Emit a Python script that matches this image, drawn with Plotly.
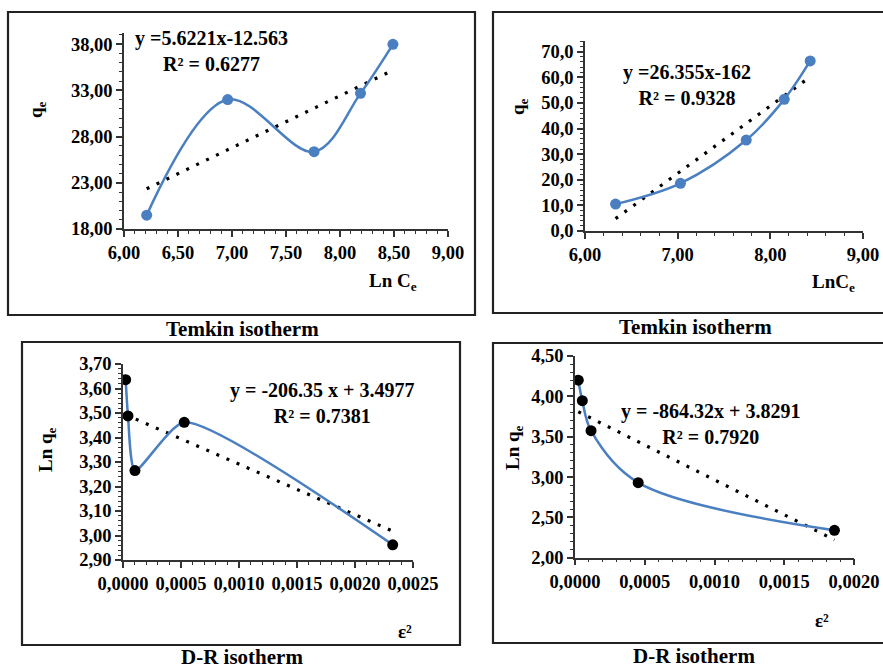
import plotly.graph_objects as go
import numpy as np

W, H = 883, 669

# ---------------- data ----------------
# Temkin (left)
tk1_x = [6.21, 6.96, 7.76, 8.19, 8.49]
tk1_y = [19.5, 32.0, 26.36, 32.67, 37.97]
tk1_fit = [5.6221, -12.563]
# Temkin (right)
tk2_x = [6.33, 7.03, 7.74, 8.15, 8.43]
tk2_y = [10.5, 18.6, 35.5, 51.4, 66.4]
tk2_fit = [26.355, -162.0]
# D-R (left)
dr1_x = [0.000023, 0.000043, 0.000103, 0.000528, 0.002325]
dr1_y = [3.636, 3.488, 3.265, 3.462, 2.962]
dr1_fit = [-206.35, 3.4977]
# D-R (right)
dr2_x = [0.0000236, 0.0000525, 0.000115, 0.000453, 0.00186]
dr2_y = [4.20, 3.946, 3.574, 2.93, 2.34]
dr2_fit = [-864.32, 3.8291]

eq_texts = ["y =5.6221x-12.563<br>R² = 0.6277",
            "y =26.355x-162<br>R² = 0.9328",
            "y = -206.35 x + 3.4977<br>R² = 0.7381",
            "y = -864.32x + 3.8291<br>R² = 0.7920"]
captions = ["Temkin isotherm", "Temkin isotherm", "D-R isotherm", "D-R isotherm"]

BLUE = "#4a7fc1"
FONT = '"Times New Roman", "Liberation Serif", "DejaVu Serif", serif'

def px(x):
    return x / W

def py(y):
    return 1 - y / H

fig = go.Figure()

panels = [
    dict(x=tk1_x, y=tk1_y, fit=tk1_fit, mcol=BLUE, sm=1.0,
         xdom=[px(124), px(448)], ydom=[py(229), py(33)],
         xr=[6, 9], yr=[18, 39.2], xt=list(np.arange(6, 9.01, 0.5)), yt=[18, 23, 28, 33, 38],
         xminor=0.1, yminor=1, xfmt=".2f", yfmt=".2f"),
    dict(x=tk2_x, y=tk2_y, fit=tk2_fit, mcol=BLUE, sm=1.0,
         xdom=[px(585), px(863)], ydom=[py(231), py(40.7)],
         xr=[6, 9], yr=[0, 74.3], xt=[6, 7, 8, 9], yt=list(range(0, 71, 10)),
         xminor=0.2, yminor=2, xfmt=".2f", yfmt=".1f"),
    dict(x=dr1_x, y=dr1_y, fit=dr1_fit, mcol="black", sm=0.6,
         xdom=[px(123), px(413)], ydom=[py(560), py(364)],
         xr=[0, 0.0025], yr=[2.9, 3.7], xt=list(np.arange(0, 0.00251, 0.0005)),
         yt=list(np.round(np.arange(2.9, 3.701, 0.1), 2)),
         xminor=0.0001, yminor=0.02, xfmt=".4f", yfmt=".2f"),
    dict(x=dr2_x, y=dr2_y, fit=dr2_fit, mcol="black", sm=1.0,
         xdom=[px(575), px(854)], ydom=[py(557.7), py(356)],
         xr=[0, 0.002], yr=[2.0, 4.5], xt=list(np.arange(0, 0.00201, 0.0005)),
         yt=[2.0, 2.5, 3.0, 3.5, 4.0, 4.5],
         xminor=0.0001, yminor=0.1, xfmt=".4f", yfmt=".2f"),
]

layout_axes = {}
for i, p in enumerate(panels, start=1):
    xa = "x" if i == 1 else f"x{i}"
    ya = "y" if i == 1 else f"y{i}"
    xmin, xmax = min(p["x"]), max(p["x"])
    fx = [xmin, xmax]
    fy = [p["fit"][0] * v + p["fit"][1] for v in fx]
    fig.add_trace(go.Scatter(x=fx, y=fy, mode="lines", xaxis=xa, yaxis=ya,
                             line=dict(color="black", width=3.2, dash="3px,8px"),
                             showlegend=False, hoverinfo="skip"))
    fig.add_trace(go.Scatter(x=p["x"], y=p["y"], mode="lines+markers", xaxis=xa, yaxis=ya,
                             line=dict(color=BLUE, width=2.5, shape="spline", smoothing=p["sm"]),
                             marker=dict(color=p["mcol"], size=11),
                             showlegend=False))
    common = dict(showgrid=False, zeroline=False, showline=True, linecolor="#333333", linewidth=1.5,
                  ticks="outside", ticklen=6, tickwidth=1.5, tickcolor="#333333", automargin=False,
                  tickfont=dict(family=FONT, size=18.5, color="black", weight="bold"))
    xkey = "xaxis" if i == 1 else f"xaxis{i}"
    ykey = "yaxis" if i == 1 else f"yaxis{i}"
    layout_axes[xkey] = dict(common, domain=p["xdom"], range=p["xr"], anchor=ya,
                             tickvals=p["xt"], tickformat=p["xfmt"],
                             minor=dict(dtick=p["xminor"], tick0=p["xr"][0], ticks="outside",
                                        ticklen=3, tickcolor="#333333", tickwidth=1))
    layout_axes[ykey] = dict(common, domain=p["ydom"], range=p["yr"], anchor=xa,
                             tickvals=p["yt"], tickformat=p["yfmt"],
                             minor=dict(dtick=p["yminor"], tick0=p["yr"][0], ticks="outside",
                                        ticklen=3, tickcolor="#333333", tickwidth=1))

# panel borders (pixel boxes)
borders = [(8, 12, 475, 315), (493, 12, 890, 313), (22, 342, 460, 645), (493, 343, 890, 643)]
shapes = [dict(type="rect", xref="paper", yref="paper",
               x0=px(a), x1=px(c), y0=py(d), y1=py(b),
               line=dict(color="#222222", width=2.2)) for a, b, c, d in borders]

annotations = []
def ann(text, x, y, size=20, angle=0):
    annotations.append(dict(text=text, x=px(x), y=py(y), xref="paper", yref="paper",
                            showarrow=False, xanchor="center", yanchor="middle",
                            textangle=angle,
                            font=dict(family=FONT, size=size, color="black")))

eq_pos = [(211, 51), (687, 85), (322, 403), (710, 424)]
for t, (x, y) in zip(eq_texts, eq_pos):
    ann("<b>" + t + "</b>", x, y, 20)

cap_pos = [(242, 329), (695, 327), (242, 657), (694, 656)]
for t, (x, y) in zip(captions, cap_pos):
    ann("<b>" + t + "</b>", x, y, 21)

ann("<b>q<sub>e</sub></b>", 37, 110, 19, -90)
ann("<b>Ln C<sub>e</sub></b>", 393, 282, 19)
ann("<b>q<sub>e</sub></b>", 519, 107, 19, -90)
ann("<b>LnC<sub>e</sub></b>", 833, 283, 19)
ann("<b>Ln q<sub>e</sub></b>", 47, 450, 19, -90)
ann("<b>ε²</b>", 405, 631, 19)
ann("<b>Ln q<sub>e</sub></b>", 514, 448, 19, -90)
ann("<b>ε²</b>", 822, 620, 19)

fig.update_layout(width=W, height=H, margin=dict(l=0, r=0, t=0, b=0, autoexpand=False),
                  paper_bgcolor="white", plot_bgcolor="white",
                  separators=",.",
                  font=dict(family=FONT, size=17, color="black"),
                  shapes=shapes, annotations=annotations, **layout_axes)

fig.write_html("out.html")
